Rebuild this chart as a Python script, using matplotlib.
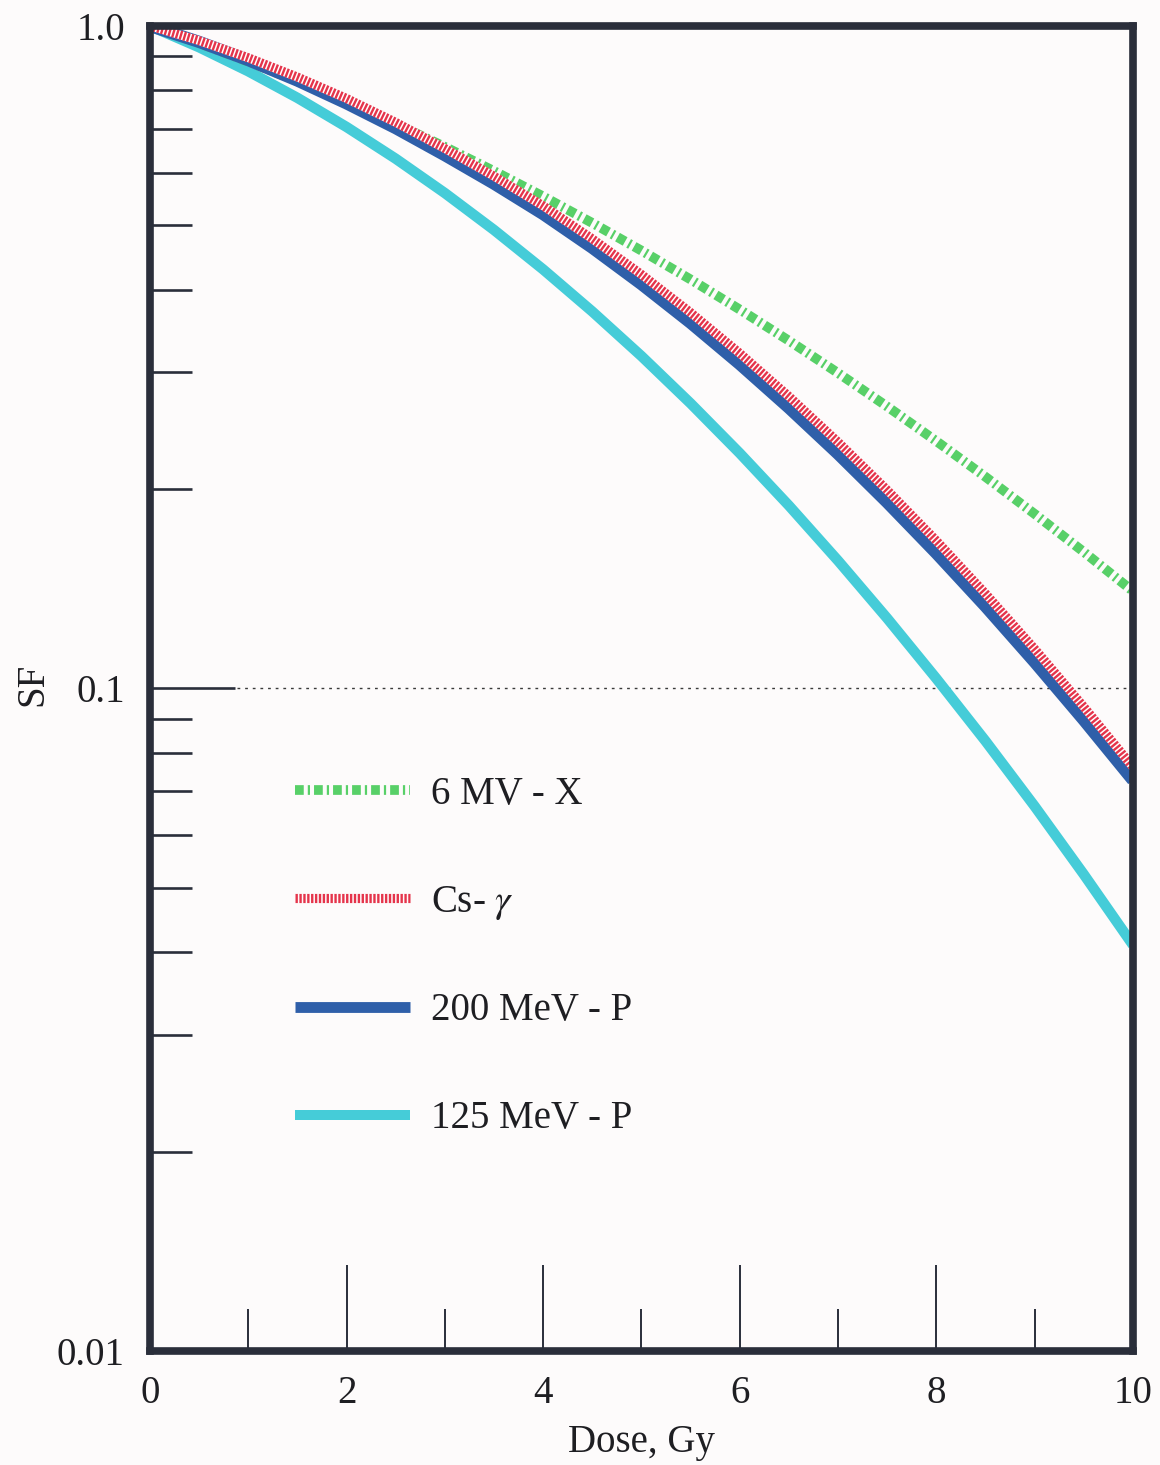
import matplotlib
matplotlib.use("Agg")
import matplotlib.pyplot as plt
from matplotlib.ticker import FixedLocator, FixedFormatter, NullFormatter
from matplotlib.lines import Line2D

# Surviving fraction curves
dose = [0.0, 0.5, 1.0, 1.5, 2.0, 2.5, 3.0, 3.5, 4.0, 4.5, 5.0,
        5.5, 6.0, 6.5, 7.0, 7.5, 8.0, 8.5, 9.0, 9.5, 10.0]

sf_6mv_x = [1.0, 0.9418, 0.8834, 0.8253, 0.7679, 0.7117, 0.6569, 0.6039, 0.5529, 0.5042, 0.4580,
            0.4143, 0.3732, 0.3349, 0.2993, 0.2664, 0.2362, 0.2086, 0.1834, 0.1607, 0.1402]
sf_cs_gamma = [1.0, 0.9500, 0.8950, 0.8370, 0.7770, 0.7150, 0.6530, 0.5930, 0.5350, 0.4770, 0.4215,
               0.3692, 0.3205, 0.2759, 0.2354, 0.1992, 0.1671, 0.1390, 0.1147, 0.0938, 0.0761]
sf_200mev_p = [1.0, 0.9460, 0.8880, 0.8270, 0.7640, 0.7010, 0.6380, 0.5780, 0.5200, 0.4625, 0.4076,
               0.3563, 0.3087, 0.2652, 0.2260, 0.1909, 0.1600, 0.1330, 0.1096, 0.0896, 0.0727]
sf_125mev_p = [1.0, 0.9284, 0.8541, 0.7788, 0.7038, 0.6303, 0.5594, 0.4921, 0.4290, 0.3706, 0.3174,
               0.2693, 0.2265, 0.1888, 0.1559, 0.1276, 0.1035, 0.0833, 0.0664, 0.0524, 0.0410]

labels = ["6 MV - X", "Cs- $\\gamma$", "200 MeV - P", "125 MeV - P"]

y_major = [0.01, 0.1, 1.0]
y_major_labels = ["0.01", "0.1", "1.0"]
y_minor = [0.02, 0.03, 0.04, 0.05, 0.06, 0.07, 0.08, 0.09,
           0.2, 0.3, 0.4, 0.5, 0.6, 0.7, 0.8, 0.9]
x_major = [0, 2, 4, 6, 8, 10]
x_minor = [1, 3, 5, 7, 9]

plt.rcParams["font.family"] = ["Liberation Serif", "DejaVu Serif"]
plt.rcParams["mathtext.fontset"] = "stix"
plt.rcParams["lines.scale_dashes"] = False

GREEN = "#58d068"
RED = "#e5344b"
BLUE = "#2f5fa9"
CYAN = "#45ccd8"
FRAME = "#2a2e3a"
TEXT = "#1e1e22"
BG = "#fdfbfb"

GREEN_STYLE = dict(color=GREEN, lw=7.0, dash_capstyle="butt",
                   linestyle=(0, (6.3, 2.9, 1.6, 2.9)))
RED_STYLE = dict(color=RED, lw=6.6, dash_capstyle="butt", linestyle=(0, (1.7, 1.1)))

fig = plt.figure(figsize=(11.6, 14.65), dpi=100, facecolor=BG)
ax = fig.add_axes([0.1293, 0.0778, 0.8474, 0.9045], facecolor=BG)

ax.set_yscale("log")
ax.set_xlim(0, 10)
ax.set_ylim(0.01, 1.0)

# reference line at SF = 0.1
ax.axhline(0.1, xmin=0.0885, xmax=1.0, color="#3a3a3a", lw=1.0,
           linestyle=(0, (2.0, 3.5)), zorder=1)

ax.plot(dose, sf_125mev_p, color=CYAN, lw=7.5, solid_capstyle="butt", zorder=2)
ax.plot(dose, sf_6mv_x, zorder=3, **GREEN_STYLE)
ax.plot(dose, sf_200mev_p, color=BLUE, lw=8.8, solid_capstyle="butt", zorder=4)
ax.plot(dose, sf_cs_gamma, color="white", lw=6.2, solid_capstyle="butt", zorder=5)
ax.plot(dose, sf_cs_gamma, zorder=6, **RED_STYLE)

# frame
for side in ["left", "right", "top", "bottom"]:
    ax.spines[side].set_linewidth(5.5)
    ax.spines[side].set_color(FRAME)
    ax.spines[side].set_zorder(10)

ax.yaxis.set_major_locator(FixedLocator(y_major))
ax.yaxis.set_major_formatter(FixedFormatter(y_major_labels))
ax.yaxis.set_minor_locator(FixedLocator(y_minor))
ax.yaxis.set_minor_formatter(NullFormatter())
ax.xaxis.set_major_locator(FixedLocator(x_major))
ax.xaxis.set_minor_locator(FixedLocator(x_minor))
ax.xaxis.set_minor_formatter(NullFormatter())

ax.tick_params(axis="y", which="major", direction="in", length=61, width=1.9,
               color=FRAME, pad=18, labelsize=28, labelcolor=TEXT)
ax.tick_params(axis="y", which="minor", direction="in", length=30, width=1.9,
               color=FRAME)
ax.tick_params(axis="x", which="major", direction="in", length=62, width=1.4,
               color=FRAME, pad=17, labelsize=28, labelcolor=TEXT)
ax.tick_params(axis="x", which="minor", direction="in", length=30, width=1.4,
               color=FRAME)

ax.set_xlabel("Dose, Gy", fontsize=28, color=TEXT)
ax.xaxis.set_label_coords(0.5, -0.055)
ax.set_ylabel("SF", fontsize=28, color=TEXT)
ax.yaxis.set_label_coords(-0.100, 0.503)

handles = [
    Line2D([], [], **GREEN_STYLE),
    Line2D([], [], **RED_STYLE),
    Line2D([], [], color=BLUE, lw=7.8, solid_capstyle="butt"),
    Line2D([], [], color=CYAN, lw=7.2, solid_capstyle="butt"),
]
leg = ax.legend(handles, labels, loc="upper left", bbox_to_anchor=(0.1475, 0.434),
                frameon=False, fontsize=28, handlelength=2.95, handletextpad=0.55,
                labelspacing=1.82, borderpad=0, borderaxespad=0)
for t in leg.get_texts():
    t.set_color(TEXT)

fig.savefig("out.png", dpi=100, facecolor=BG)
